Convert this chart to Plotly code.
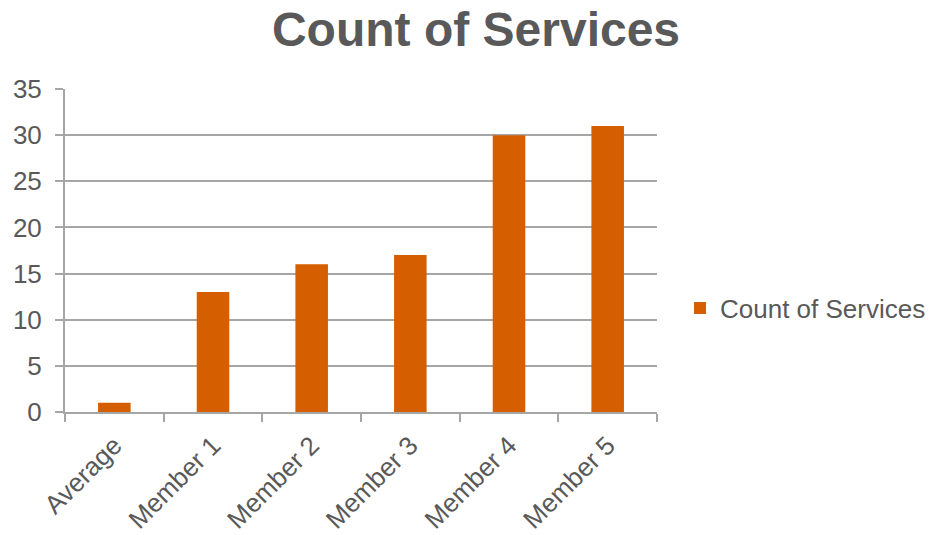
import plotly.graph_objects as go

categories = ["Average", "Member 1", "Member 2", "Member 3", "Member 4", "Member 5"]
values = [1, 13, 16, 17, 30, 31]
series_name = "Count of Services"
title_text = "Count of Services"

gray_text = "#595959"
grid = "#a6a6a6"
bar_color = "#D55F00"

fig = go.Figure()
fig.add_trace(go.Bar(x=categories, y=values, name=series_name,
                     marker=dict(color=bar_color, line=dict(width=0)),
                     showlegend=True))

fig.update_layout(
    width=931, height=535,
    margin=dict(l=65, r=274, t=89, b=123, autoexpand=False),
    paper_bgcolor="white", plot_bgcolor="white",
    font=dict(family="Liberation Sans, Arial, sans-serif", color=gray_text, size=26),
    title=dict(text="<b>" + title_text + "</b>", x=476/931, xanchor="center",
               y=1 - 29/535, yanchor="middle", yref="container",
               font=dict(size=48, color=gray_text)),
    bargap=0.67,
    showlegend=True,
    legend=dict(x=(931-65)/592, xanchor="right", y=(412-308)/323, yanchor="middle",
                font=dict(size=26, color=gray_text), bgcolor="rgba(0,0,0,0)",
                itemwidth=30),
)
fig.update_xaxes(type="category", showline=True, linecolor=grid, linewidth=2,
                 ticks="outside", tickson="boundaries", ticklen=8, tickcolor=grid,
                 tickwidth=2, tickangle=-45, showgrid=False, ticklabelstandoff=6,
                 automargin=False,
                 tickfont=dict(size=26, color=gray_text))
fig.update_yaxes(range=[0, 35], dtick=5, tick0=0, showline=True, linecolor=grid,
                 linewidth=2, ticks="outside", ticklen=8, tickcolor=grid, tickwidth=2,
                 showgrid=True, gridcolor=grid, gridwidth=2, zeroline=False,
                 ticklabelstandoff=8, automargin=False,
                 tickfont=dict(size=26, color=gray_text))

fig.write_html("out.html")
